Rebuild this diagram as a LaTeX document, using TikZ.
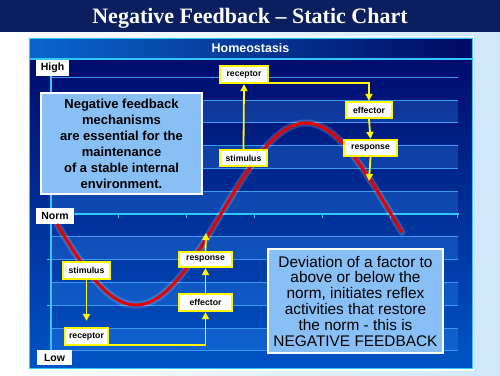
\documentclass[tikz,border=0pt]{standalone}
\usepackage{fontspec}
\newfontfamily\arialf{Liberation Sans}
\newfontfamily\timesf{Liberation Serif}
\usetikzlibrary{arrows.meta}
\definecolor{titlenavy}{HTML}{0B1F5E}
\definecolor{bglight}{HTML}{CFE7FC}
\definecolor{hdrleft}{HTML}{0A66CC}
\definecolor{hdrright}{HTML}{000A62}
\definecolor{plottop}{HTML}{000C6C}
\definecolor{plotbot}{HTML}{0054C6}
\definecolor{cyanb}{HTML}{30C8FF}
\definecolor{gridc}{HTML}{3A9CF0}
\definecolor{stripec}{HTML}{3C96FF}
\definecolor{infofill}{HTML}{88C0F6}
\definecolor{curvered}{HTML}{E80000}
\definecolor{yel}{HTML}{FFF800}
\tikzset{
  gridline/.style={draw=gridc, line width=0.8pt},
  normline/.style={draw=cyanb, line width=1.3pt},
  axislabel/.style={fill=white, inner sep=0pt, text=black, font=\arialf\bfseries\fontsize{10.5}{12}\selectfont},
  infobox/.style={draw=white, line width=1.2pt, fill=infofill, inner sep=0pt, align=center, text=black},
  ybox/.style={draw=yel, line width=2.3pt, fill=white, inner sep=0pt, text=black, font=\arialf\bfseries\fontsize{8.7}{10}\selectfont},
  yarrow/.style={draw=yel, line width=1.8pt, -{Triangle[length=7pt,width=7pt]}},
}
\begin{document}
\begin{tikzpicture}[x=1pt,y=-1pt]
\useasboundingbox (0,0) rectangle (500,375);
% background
\shade[left color=white, right color=bglight] (0,0) rectangle (500,375);
% title band
\fill[titlenavy] (0,0) rectangle (500,32);
\node[anchor=base, text=white, font=\timesf\bfseries\fontsize{22}{24}\selectfont] (title) at (250,23.5) {Negative Feedback – Static Chart};
% panel
\draw[white, line width=1.5pt] (27.5,36.5) rectangle (473.5,370);
\shade[left color=hdrleft, right color=hdrright] (29,38) rectangle (472,59);
\shade[top color=plottop, bottom color=plotbot] (29,59) rectangle (472,368.5);
\draw[cyanb, line width=1pt] (29,38) rectangle (472,368.5);
\draw[cyanb, line width=1.2pt] (29,59) -- (472,59);
\node[text=white, font=\arialf\bfseries\fontsize{12.5}{14}\selectfont] (hdr) at (250.5,48) {Homeostasis};
% stripes
\foreach \k in {-5,-3,-1,1,3,5}
  \fill[stripec, opacity=0.26] (51,{214+22.8*\k}) rectangle (458,{214+22.8*(\k+1)});
% grid lines
\foreach \k in {-6,...,6}
  \draw[gridline] (51,{214+22.8*\k}) -- (458,{214+22.8*\k});
% norm line and axis
\draw[normline] (51,214) -- (458.5,214);
\foreach \x in {118.8,186.6,254.4,322.2,390,457.8}
  \draw[draw=cyanb, line width=1pt] (\x,214) -- (\x,218);
\draw[normline] (51,60) -- (51,360);
\foreach \k in {-4,-2,2,4}
  \draw[draw=cyanb, line width=1pt] (46.5,{214+22.8*\k}) -- (51,{214+22.8*\k});
% axis labels
\node[axislabel, minimum width=33pt, minimum height=16pt] (high) at (52.5,68) {High};
\node[axislabel, minimum width=38pt, minimum height=16pt] (norm) at (55,216) {Norm};
\node[axislabel, minimum width=35pt, minimum height=15pt] (low) at (54.5,357.5) {Low};
% curve
\draw[white, opacity=0.18, line width=7pt, line cap=round] plot[domain=57:402, samples=120] (\x,{214-91*sin(1.0588*(\x-221))});
\draw[curvered, line width=3pt] plot[domain=57:402, samples=120] (\x,{214-91*sin(1.0588*(\x-221))});
% info boxes
\node[infobox, minimum width=161pt, minimum height=101pt, font=\arialf\bfseries\fontsize{13}{16}\selectfont] (info1) at (121.5,143.5)
  {Negative feedback\\mechanisms\\are essential for the\\maintenance\\of a stable internal\\environment.};
\node[infobox, minimum width=175pt, minimum height=104pt, font=\arialf\fontsize{15.4}{15.8}\selectfont] (info2) at (355.5,301)
  {Deviation of a factor to\\above or below the\\norm, initiates reflex\\activities that restore\\the norm - this is\\NEGATIVE FEEDBACK};
% upper chain
\node[ybox, minimum width=48pt, minimum height=17pt] (urec) at (244,74.5) {receptor};
\node[ybox, minimum width=47pt, minimum height=16pt] (ustim) at (243.5,158) {stimulus};
\node[ybox, minimum width=46pt, minimum height=16pt] (ueff) at (369,110) {effector};
\node[ybox, minimum width=53pt, minimum height=16pt] (uresp) at (370.5,148) {response};
\coordinate (uend) at (369,181);
\draw[yarrow] (ustim.north) -- (urec.south);
\draw[yarrow] ([yshift=1.5pt]urec.south east) -| (ueff.north);
\draw[yarrow] (ueff.south) -- (uresp.north);
\draw[yarrow] (uresp.south) -- (uend);
% lower chain
\node[ybox, minimum width=47pt, minimum height=17pt] (lstim) at (86.5,270.5) {stimulus};
\node[ybox, minimum width=43pt, minimum height=17pt] (lrec) at (86.5,336.5) {receptor};
\node[ybox, minimum width=53pt, minimum height=17pt] (leff) at (205.5,302.5) {effector};
\node[ybox, minimum width=53pt, minimum height=15pt] (lresp) at (205.5,259.5) {response};
\coordinate (lend) at (206,233);
\draw[yarrow, shorten >=6pt] (lstim.south) -- (lrec.north);
\draw[yarrow] ([yshift=1.5pt]lrec.south east) -| (leff.south);
\draw[yarrow] (leff.north) -- (lresp.south);
\draw[yarrow] (lresp.north) -- (lend);
\end{tikzpicture}
\end{document}
